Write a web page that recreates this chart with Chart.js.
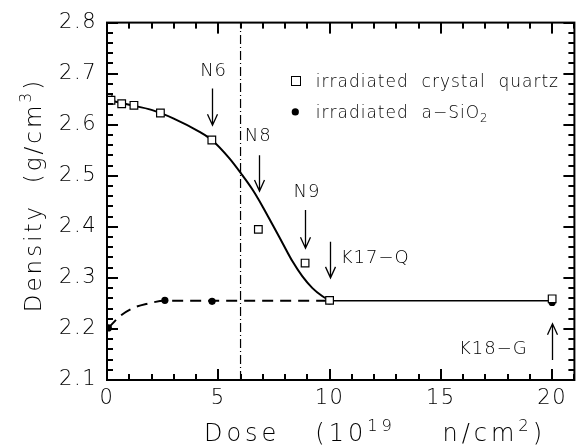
<!DOCTYPE html>
<html>
<head>
<meta charset="utf-8">
<script src="https://cdn.jsdelivr.net/npm/chart.js@4.4.1/dist/chart.umd.min.js"></script>
<style>
  html, body { margin: 0; padding: 0; background: #fff; }
</style>
</head>
<body>
<canvas id="densityChart" width="581" height="448"></canvas>
<script>
//// Data

// irradiated crystal quartz (open squares)
const quartzDose = [0.05, 0.18, 0.66, 1.21, 2.4, 4.71, 6.8, 8.9, 10.0, 20.0];
const quartzDensity = [2.652, 2.648, 2.641, 2.638, 2.623, 2.570, 2.395, 2.329, 2.256, 2.259];

// irradiated a-SiO2 (filled dots)
const silicaDose = [0.06, 2.6, 4.72, 10.0, 20.0];
const silicaDensity = [2.202, 2.256, 2.254, 2.255, 2.252];

// solid guide curve through the quartz points
const quartzFitDose = [0, 1, 2, 3, 4.16, 4.71, 5.5, 6.03, 6.55, 7.0, 7.44, 7.89, 8.34, 8.78, 9.23, 9.68, 10];
const quartzFitDensity = [2.649, 2.639, 2.629, 2.612, 2.586, 2.570, 2.534, 2.504, 2.472, 2.439, 2.404, 2.368, 2.332, 2.303, 2.280, 2.264, 2.256];

// dashed guide curve through the a-SiO2 points
const silicaFitDose = [0.06, 0.58, 1.18, 1.77, 2.6, 4.7, 10];
const silicaFitDensity = [2.202, 2.225, 2.241, 2.249, 2.255, 2.255, 2.255];

// solid plateau line
const plateauDose = [10, 20];
const plateauDensity = [2.255, 2.255];

// dash-dot marker
const cutDose = [6, 6];
const cutDensity = [2.1, 2.8];

// axis ticks
const xTicks = [0, 5, 10, 15, 20];
const yTicks = [2.1, 2.2, 2.3, 2.4, 2.5, 2.6, 2.7, 2.8];
const xMinor = [0, 1, 2, 3, 4, 5, 6, 7, 8, 9, 10, 11, 12, 13, 14, 15, 16, 17, 18, 19, 20, 21];

// sample labels with arrows
const sampleLabels = ['N6', 'N8', 'N9', 'K17\u2212Q', 'K18\u2212G'];
const arrowDose = [4.7, 6.81, 8.9, 10.0, 20.0];
const arrowFrom = [2.671, 2.540, 2.433, 2.371, 2.139];
const arrowTo = [2.599, 2.470, 2.358, 2.300, 2.210];
const labelDose = [4.79, 6.79, 8.98, 10.5, 18.9];
const labelDensity = [2.708, 2.580, 2.472, 2.342, 2.163];
const labelAlign = ['center', 'center', 'center', 'left', 'right'];

// legend anchor (data coords)
const legendDose = 8.46;
const legendTextDose = 9.38;
const legendDensity = [2.686, 2.625];

//// Helpers
const FONT = '"DejaVu Sans", sans-serif';
const toXY = (xs, ys) => xs.map((x, i) => ({ x: x, y: ys[i] }));

function drawRich(ctx, parts, x, y, size, align) {
    // parts: [text, shift]  shift 1 = superscript, -1 = subscript
    const widths = parts.map(p => {
        ctx.font = '300 ' + (p[1] ? size * 0.68 : size) + 'px ' + FONT;
        return ctx.measureText(p[0]).width;
    });
    const total = widths.reduce((a, b) => a + b, 0);
    let cx = align === 'center' ? x - total / 2 : align === 'right' ? x - total : x;
    ctx.textAlign = 'left';
    ctx.textBaseline = 'alphabetic';
    parts.forEach((p, i) => {
        ctx.font = '300 ' + (p[1] ? size * 0.68 : size) + 'px ' + FONT;
        const dy = p[1] === 1 ? -size * 0.42 : p[1] === -1 ? size * 0.22 : 0;
        ctx.fillText(p[0], cx, y + dy);
        cx += widths[i];
    });
}

function arrow(ctx, x, y0, y1) {
    const dir = y1 > y0 ? 1 : -1;
    ctx.beginPath();
    ctx.moveTo(x, y0);
    ctx.lineTo(x, y1);
    ctx.moveTo(x - 5, y1 - dir * 11);
    ctx.lineTo(x, y1);
    ctx.lineTo(x + 5, y1 - dir * 11);
    ctx.stroke();
}

const framePlugin = {
    id: 'densityFrame',
    beforeDraw(chart) {
        chart.ctx.letterSpacing = '1.5px';
    },
    afterDraw(chart) {
        const ctx = chart.ctx;
        const a = chart.chartArea;
        const x = chart.scales.x;
        const y = chart.scales.y;
        ctx.save();
        ctx.setLineDash([]);
        ctx.strokeStyle = '#000';
        ctx.fillStyle = '#000';

        // frame
        ctx.lineWidth = 2;
        ctx.strokeRect(a.left, a.top, a.right - a.left, a.bottom - a.top);

        // inward ticks on all four sides
        xMinor.forEach(v => {
            const px = Math.round(x.getPixelForValue(v)) - 1;
            const len = v % 5 === 0 ? 11 : 6;
            ctx.fillRect(px, a.bottom - len, 2, len);
            ctx.fillRect(px, a.top, 2, len);
        });
        for (let k = 0; k <= 35; k++) {
            const py = Math.round(y.getPixelForValue(2.1 + k * 0.02)) - 1;
            const len = k % 5 === 0 ? 11 : 6;
            ctx.fillRect(a.left, py, len, 2);
            ctx.fillRect(a.right - len, py, len, 2);
        }

        // arrows + sample labels
        ctx.lineWidth = 1.3;
        ctx.letterSpacing = '1px';
        sampleLabels.forEach((lab, i) => {
            const px = Math.round(x.getPixelForValue(arrowDose[i])) + 0.5;
            arrow(ctx, px, y.getPixelForValue(arrowFrom[i]), y.getPixelForValue(arrowTo[i]));
            drawRich(ctx, [[lab, 0]], x.getPixelForValue(labelDose[i]),
                y.getPixelForValue(labelDensity[i]) + 6.5, 18, labelAlign[i]);
        });

        // legend
        ctx.lineWidth = 1;
        const lx = x.getPixelForValue(legendDose);
        const ly0 = y.getPixelForValue(legendDensity[0]);
        const ly1 = y.getPixelForValue(legendDensity[1]);
        ctx.fillStyle = '#fff';
        ctx.fillRect(lx - 4.5, ly0 - 4.5, 9, 9);
        ctx.strokeRect(Math.round(lx - 4.5) + 0.5, Math.round(ly0 - 4.5) + 0.5, 9, 9);
        ctx.fillStyle = '#000';
        ctx.beginPath();
        ctx.arc(lx, ly1, 3.6, 0, Math.PI * 2);
        ctx.fill();
        const tx = x.getPixelForValue(legendTextDose);
        drawRich(ctx, [['irradiated  crystal  quartz', 0]], tx, ly0 + 6, 17, 'left');
        drawRich(ctx, [['irradiated  a\u2212SiO', 0], ['2', -1]], tx, ly1 + 6, 17, 'left');

        // axis titles
        ctx.letterSpacing = '4px';
        drawRich(ctx, [['Dose   (10', 0], ['19', 1], ['    n/cm', 0], ['2', 1], [')', 0]],
            375, 441, 24, 'center');
        ctx.letterSpacing = '3px';
        ctx.save();
        ctx.translate(41, 195);
        ctx.rotate(-Math.PI / 2);
        drawRich(ctx, [['Density  (g/cm', 0], ['3', 1], [')', 0]], 0, 0, 23, 'center');
        ctx.restore();

        ctx.restore();
    }
};

//// Chart
window.onload = () => {
    const canvas = document.getElementById('densityChart');

    new Chart(canvas, {
        type: 'scatter',
        data: {
            datasets: [
                {
                    label: 'irradiated crystal quartz',
                    data: toXY(quartzDose, quartzDensity),
                    pointStyle: 'rect',
                    pointRadius: 5.4,
                    backgroundColor: '#fff',
                    borderColor: '#000',
                    borderWidth: 1.2,
                    order: 0
                },
                {
                    label: 'irradiated a-SiO2',
                    data: toXY(silicaDose, silicaDensity),
                    pointStyle: 'circle',
                    pointRadius: 3.6,
                    backgroundColor: '#000',
                    borderColor: '#000',
                    borderWidth: 0,
                    order: 0
                },
                {
                    type: 'line',
                    data: toXY(quartzFitDose, quartzFitDensity),
                    borderColor: '#000',
                    borderWidth: 2,
                    pointRadius: 0,
                    cubicInterpolationMode: 'monotone',
                    fill: false,
                    order: 1
                },
                {
                    type: 'line',
                    data: toXY(silicaFitDose, silicaFitDensity),
                    borderColor: '#000',
                    borderWidth: 2,
                    borderDash: [11, 7],
                    pointRadius: 0,
                    cubicInterpolationMode: 'monotone',
                    fill: false,
                    order: 1
                },
                {
                    type: 'line',
                    data: toXY(plateauDose, plateauDensity),
                    borderColor: '#000',
                    borderWidth: 1.5,
                    pointRadius: 0,
                    fill: false,
                    order: 1
                },
                {
                    type: 'line',
                    data: toXY(cutDose, cutDensity),
                    borderColor: '#000',
                    borderWidth: 1.2,
                    borderDash: [9, 3, 1, 3],
                    pointRadius: 0,
                    fill: false,
                    order: 1
                }
            ]
        },
        options: {
            responsive: false,
            animation: false,
            devicePixelRatio: 1,
            layout: { padding: { top: 20, right: 5, left: 0, bottom: 0 } },
            plugins: {
                legend: { display: false },
                tooltip: { enabled: false }
            },
            scales: {
                x: {
                    type: 'linear',
                    min: 0,
                    max: 21,
                    afterBuildTicks: s => { s.ticks = xTicks.map(v => ({ value: v })); },
                    afterFit: s => { s.height = 68; },
                    grid: { display: false, drawTicks: false },
                    border: { display: false },
                    ticks: {
                        color: '#000',
                        font: { family: FONT, size: 21, weight: '300' },
                        padding: 6,
                        maxRotation: 0,
                        autoSkip: false,
                        callback: v => String(v)
                    }
                },
                y: {
                    type: 'linear',
                    min: 2.1,
                    max: 2.8,
                    afterBuildTicks: s => { s.ticks = yTicks.map(v => ({ value: v })); },
                    afterFit: s => { s.width = 107; },
                    grid: { display: false, drawTicks: false },
                    border: { display: false },
                    ticks: {
                        color: '#000',
                        font: { family: FONT, size: 21, weight: '300' },
                        padding: 10,
                        callback: v => v.toFixed(1)
                    }
                }
            }
        },
        plugins: [framePlugin]
    });
};
</script>
</body>
</html>
